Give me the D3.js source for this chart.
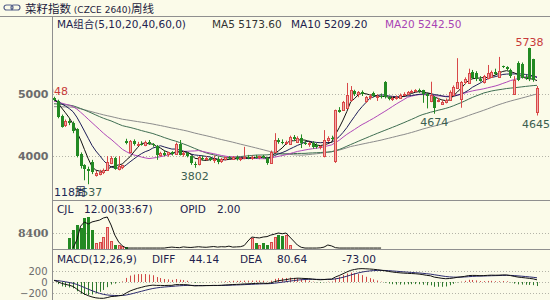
<!DOCTYPE html>
<html>
<head>
<meta charset="utf-8">
<script src="https://cdn.jsdelivr.net/npm/d3@7"></script>
<style>
  body { margin: 0; background: #fbfbe9; }
  svg { display: block; }
</style>
</head>
<body>
<svg id="chart" width="550" height="300"></svg>
<script>
// weekly candles
const opens = [
  4920, 4880, 4640, 4480, 4550, 4520, 4420, 4020, 3840, 3790,
  3900, 3690, 3700, 3720, 3770, 3880, 3960, 3780, 3810, 4240,
  4060, 4230, 4180, 4190, 4170, 4220, 4180, 4150, 4000, 4040,
  4010, 4050, 4030, 4190, 4020, 4040, 3990, 3870, 3860, 3960,
  3940, 3960, 3930, 3950, 3900, 3940, 3970, 3950, 3980, 3940,
  3960, 3980, 3960, 3980, 3970, 3990, 3960, 3880, 4060, 4250,
  4220, 4200, 4180, 4300, 4230, 4280, 4200, 4180, 4200, 4170,
  4130, 3990, 4250, 4290, 3900, 4740, 4730, 4770, 4890, 5040,
  4980, 5020, 4870, 4940, 5010, 4940, 4960, 5180, 4940, 4910,
  4930, 4930, 4980, 5000, 5030, 5040, 5050, 5050, 4990, 4880,
  4950, 4880, 4840, 4870, 4900, 4980, 5100, 4900, 5190, 5170,
  5350, 5330, 5230, 5180, 5250, 5270, 5350, 5270, 5440, 5420,
  5380, 5000, 5500, 5480, 5260, 5730, 5550, 4700
];
const highs = [
  4948, 4900, 4660, 4580, 4590, 4550, 4440, 4050, 3860, 3820,
  3930, 3750, 3770, 3790, 3990, 3990, 3980, 3990, 3850, 4270,
  4250, 4260, 4220, 4230, 4240, 4250, 4200, 4170, 4060, 4080,
  4060, 4070, 4210, 4250, 4070, 4060, 4000, 3900, 3990, 4000,
  3990, 3980, 4000, 3980, 3960, 3980, 3990, 3990, 4000, 3970,
  4140, 4010, 4000, 4010, 4000, 4010, 3980, 4080, 4360, 4280,
  4260, 4240, 4320, 4330, 4310, 4340, 4240, 4220, 4230, 4200,
  4160, 4410, 4310, 4320, 4740, 4780, 4880, 5170, 5120, 5060,
  5040, 5050, 4960, 4990, 5030, 4990, 5000, 5200, 4960, 4950,
  4970, 5000, 5020, 5040, 5060, 5070, 5080, 5060, 5010, 5190,
  4960, 4930, 4890, 4920, 5050, 5130, 5570, 5200, 5260, 5400,
  5380, 5360, 5280, 5300, 5460, 5370, 5400, 5590, 5450, 5440,
  5400, 5280, 5520, 5500, 5300, 5738, 5560, 5120
];
const lows = [
  4880, 4600, 4450, 4460, 4490, 4360, 3970, 3790, 3600, 3537,
  3700, 3660, 3680, 3700, 3750, 3860, 3770, 3760, 3780, 4180,
  4040, 4160, 4150, 4160, 4150, 4170, 4140, 3930, 3980, 3990,
  3980, 4000, 4020, 4000, 3980, 3970, 3850, 3802, 3840, 3920,
  3920, 3910, 3880, 3860, 3880, 3920, 3930, 3930, 3920, 3910,
  3940, 3940, 3930, 3950, 3940, 3950, 3850, 3870, 4040, 4190,
  4180, 4170, 4170, 4230, 4210, 4120, 4170, 4140, 4110, 4110,
  4100, 3970, 4220, 4250, 3880, 4690, 4720, 4760, 4870, 4960,
  4940, 4960, 4850, 4900, 4940, 4880, 4920, 4920, 4890, 4880,
  4900, 4920, 4960, 4980, 5010, 5020, 5010, 4850, 4760, 4860,
  4674, 4860, 4820, 4840, 4880, 4970, 5090, 4770, 5150, 5160,
  5230, 5200, 5190, 5160, 5230, 5250, 5300, 5250, 5410, 5370,
  5250, 4980, 5200, 5240, 5220, 5200, 5190, 4645
];
const closes = [
  4890, 4620, 4470, 4550, 4510, 4390, 3990, 3820, 3780, 3760,
  3740, 3720, 3740, 3760, 3900, 3960, 3790, 3830, 3840, 4210,
  4230, 4180, 4190, 4170, 4220, 4180, 4160, 4000, 4040, 4010,
  4050, 4020, 4190, 4020, 4040, 3990, 3870, 3860, 3970, 3940,
  3960, 3930, 3950, 3900, 3940, 3970, 3950, 3980, 3940, 3960,
  3980, 3960, 3980, 3970, 3990, 3960, 3880, 4060, 4250, 4220,
  4200, 4210, 4300, 4260, 4290, 4200, 4190, 4200, 4130, 4130,
  4150, 4250, 4290, 4270, 4730, 4710, 4860, 4975, 5050, 4990,
  5020, 4980, 4940, 4960, 4960, 4960, 4940, 4940, 4910, 4930,
  4950, 4980, 5000, 5030, 5040, 5050, 5030, 4990, 4950, 4980,
  4780, 4900, 4870, 4900, 5030, 5110, 5190, 5180, 5240, 5330,
  5250, 5230, 5200, 5280, 5330, 5350, 5320, 5360, 5420, 5390,
  5280, 5220, 5220, 5260, 5250, 5230, 5210, 5090
];
// closes of the weeks before the window, only used to start the averages
const earlierCloses = [
  4620, 4650, 4600, 4580, 4640, 4700, 4680, 4660, 4720, 4750,
  4710, 4690, 4730, 4760, 4740, 4700, 4680, 4720, 4760, 4800,
  4780, 4750, 4730, 4770, 4810, 4790, 4760, 4740, 4780, 4820,
  4850, 4810, 4790, 4770, 4800, 4840, 4870, 4830, 4800, 4780,
  4820, 4860, 4890, 4850, 4820, 4800, 4840, 4880, 4910, 4870,
  4840, 4860, 4900, 4930, 4890, 4870, 4910, 4940, 4920
];
// CJL bars (0 = no bar drawn)
const volume = [
  0, 0, 0, 0, 5800, 10000, 12600, 11000, 16300, 16800,
  10000, 3200, 3700, 6300, 11500, 4000, 2100, 2100, 1500, 800,
  0, 0, 0, 0, 0, 0, 0, 0, 0, 0,
  0, 0, 0, 0, 0, 0, 0, 0, 0, 0,
  0, 0, 0, 0, 0, 0, 0, 0, 0, 0,
  0, 0, 5800, 3200, 2100, 3200, 2100, 3700, 6300, 7300,
  6800, 7300, 2100, 0, 0, 0, 0, 0, 0, 0,
  0, 0, 0, 0, 0, 0, 0, 0, 0, 0,
  0, 0, 0, 0, 0, 0, 0, 0, 0, 0,
  0, 0, 0, 0, 0, 0, 0, 0, 0, 0,
  0, 0, 0, 0, 0, 0, 0, 0, 0, 0,
  0, 0, 0, 0, 0, 0, 0, 0, 0, 0,
  0, 0, 0, 0, 0, 0, 0, 0
];
// OPID line, only present for weeks 5..86
const opidStart = 5;
const opid = [
  500, 4700, 12000, 14200, 13100, 14200, 14700, 15200, 16300, 16800,
  12600, 7300, 3700, 1600, 500, 500, 500, 500, 500, 500,
  500, 500, 500, 500, 500, 800, 1000, 800, 700, 1100,
  900, 800, 1000, 1200, 1000, 900, 1100, 1300, 1000, 1200,
  1100, 1500, 1000, 1100, 1200, 1800, 4200, 6300, 6000, 5800,
  6300, 6500, 7300, 7800, 8400, 8000, 8400, 6300, 4200, 2100,
  900, 500, 500, 500, 500, 600, 1000, 2100, 1600, 700,
  500, 500, 500, 500, 500, 500, 500, 500, 500, 500,
  500, 500
];

const priceTicks = [4000, 5000];
const volTicks = [8400];
const macdTicks = [-200, 0, 200];
const maPeriods = [5, 10, 20, 40, 60];
const maColors = ["#111111", "#1e1e58", "#b048b8", "#3f6e52", "#8c8c8c"];

const titleMain = "菜籽指数";
const titleCode = " (CZCE 2640)";
const titleEnd = "周线";
const maHeader = [
  { text: "MA组合(5,10,20,40,60,0)", x: 57, color: "#22224e" },
  { text: "MA5 5173.60", x: 212, color: "#333333" },
  { text: "MA10 5209.20", x: 291, color: "#22224e" },
  { text: "MA20 5242.50", x: 385, color: "#a844b4" }
];
const volHeader = [
  { text: "CJL", x: 57 }, { text: "12.00(33:67)", x: 84 },
  { text: "OPID", x: 180 }, { text: "2.00", x: 217 }
];
const macdHeader = [
  { text: "MACD(12,26,9)", x: 57 }, { text: "DIFF", x: 152 }, { text: "44.14", x: 189 },
  { text: "DEA", x: 240 }, { text: "80.64", x: 277 }, { text: "-73.00", x: 342 }
];
const periodLabel = "118周";

const svg = d3.select("#chart");
const N = closes.length;
const font = "Tahoma, 'DejaVu Sans', 'Noto Sans CJK SC', sans-serif";
const red = "#d84848", pink = "#f2aaaa", green = "#238a23";
const axisLeftX = 52.5;

svg.append("rect").attr("width", 550).attr("height", 300).attr("fill", "#fbfbe9");

// scales
const x = d3.scalePoint().domain(d3.range(N)).range([54, 537]);
const yPrice = d3.scaleLinear().domain([4000, 5000]).range([155.5, 93.5]);
const yVol = d3.scaleLinear().domain([0, 8400]).range([249, 233]);
const yMacd = d3.scaleLinear().domain([-200, 200]).range([293, 271]);
const px = i => Math.round(x(i));

// clip areas
const defs = svg.append("defs");
defs.append("clipPath").attr("id", "clipMain")
  .append("rect").attr("x", 53).attr("y", 17).attr("width", 497).attr("height", 183);
defs.append("clipPath").attr("id", "clipVol")
  .append("rect").attr("x", 53).attr("y", 201).attr("width", 497).attr("height", 48);
defs.append("clipPath").attr("id", "clipMacd")
  .append("rect").attr("x", 53).attr("y", 251).attr("width", 497).attr("height", 49);

// frame lines
const frame = svg.append("g").attr("stroke", "#8f8f8f").attr("shape-rendering", "crispEdges");
frame.append("line").attr("x1", 0).attr("x2", 550).attr("y1", 16.5).attr("y2", 16.5);
frame.append("line").attr("x1", axisLeftX).attr("x2", axisLeftX).attr("y1", 16.5).attr("y2", 300);
frame.append("line").attr("x1", axisLeftX).attr("x2", 550).attr("y1", 200.5).attr("y2", 200.5);
frame.append("line").attr("x1", axisLeftX).attr("x2", 550).attr("y1", 249.5).attr("y2", 249.5);

// dotted grids
function grid(ticks, scale) {
  svg.append("g").selectAll("line").data(ticks).join("line")
    .attr("x1", 53).attr("x2", 550)
    .attr("y1", d => Math.round(scale(d)) + 0.5).attr("y2", d => Math.round(scale(d)) + 0.5)
    .attr("stroke", "#b4b4a8").attr("stroke-dasharray", "1,2");
}
grid(priceTicks, yPrice);
grid(volTicks, yVol);
grid(macdTicks, yMacd);

// left axes
function leftAxis(scale, ticks, family, weight, size, pad) {
  const a = svg.append("g").attr("transform", `translate(${axisLeftX},0)`)
    .call(d3.axisLeft(scale).tickValues(ticks).tickSize(0).tickPadding(pad).tickFormat(d3.format("d")));
  a.select(".domain").remove();
  a.selectAll("text").attr("fill", "#6c6c6c").attr("font-family", family)
    .attr("font-weight", weight).attr("font-size", size);
}
leftAxis(yPrice, priceTicks, "'DejaVu Sans', sans-serif", "bold", 11, 4);
leftAxis(yVol, volTicks, "'DejaVu Serif', serif", "bold", 11, 4);
leftAxis(yMacd, macdTicks, "'DejaVu Sans', sans-serif", "normal", 10, 5);

// moving averages from the closes
const all = earlierCloses.concat(closes);
const P = earlierCloses.length;
const maLine = d3.line().x((d, i) => x(i)).y(d => yPrice(d));
const main = svg.append("g").attr("clip-path", "url(#clipMain)");
maPeriods.slice().reverse().forEach((n, k) => {
  const ci = maPeriods.length - 1 - k;
  const vals = closes.map((c, i) => d3.mean(all.slice(i + P - n + 1, i + P + 1)));
  main.append("path").datum(vals).attr("d", maLine)
    .attr("fill", "none").attr("stroke", maColors[ci]).attr("stroke-width", 1);
});

// candles
const idx = d3.range(N);
main.append("g").selectAll("line").data(idx).join("line")
  .attr("x1", i => px(i) + 0.5).attr("x2", i => px(i) + 0.5)
  .attr("y1", i => yPrice(highs[i])).attr("y2", i => yPrice(lows[i]))
  .attr("stroke", i => closes[i] >= opens[i] ? red : green);
main.append("g").selectAll("rect").data(idx).join("rect")
  .attr("shape-rendering", "crispEdges")
  .attr("x", i => closes[i] >= opens[i] ? px(i) - 0.5 : px(i) - 1)
  .attr("width", i => closes[i] >= opens[i] ? 2 : 3)
  .attr("y", i => Math.round(yPrice(Math.max(opens[i], closes[i]))))
  .attr("height", i => Math.max(1, Math.round(Math.abs(yPrice(opens[i]) - yPrice(closes[i])))))
  .attr("fill", i => closes[i] >= opens[i] ? pink : green)
  .attr("stroke", i => closes[i] >= opens[i] ? red : "none");

// high / low labels
const hiIdx = [0, d3.maxIndex(highs)];
const loIdx = [9, 37, 100, N - 1];
const lab = svg.append("g").attr("clip-path", "url(#clipMain)")
  .attr("font-family", font).attr("font-size", 11).attr("text-anchor", "middle");
lab.selectAll("text.hi").data(hiIdx).join("text").attr("class", "hi")
  .attr("x", i => x(i)).attr("y", i => yPrice(highs[i]) - 2)
  .attr("fill", "#c83a3a").text(i => highs[i]);
lab.selectAll("text.lo").data(loIdx).join("text").attr("class", "lo")
  .attr("x", i => Math.min(x(i), 536)).attr("y", i => yPrice(lows[i]) + 12)
  .attr("fill", "#3c5e50").text(i => lows[i]);
svg.append("text").attr("x", 54).attr("y", 196).attr("font-family", font).attr("font-size", 11)
  .attr("fill", "#1e2a58").text(periodLabel);

// volume panel
const vol = svg.append("g").attr("clip-path", "url(#clipVol)");
const volIdx = idx.filter(i => volume[i] > 0);
vol.selectAll("rect").data(volIdx).join("rect")
  .attr("shape-rendering", "crispEdges")
  .attr("x", i => closes[i] >= opens[i] ? px(i) - 0.5 : px(i) - 1)
  .attr("width", i => closes[i] >= opens[i] ? 2 : 3)
  .attr("y", i => Math.round(yVol(volume[i])))
  .attr("height", i => 249 - Math.round(yVol(volume[i])))
  .attr("fill", i => closes[i] >= opens[i] ? pink : green)
  .attr("stroke", i => closes[i] >= opens[i] ? red : "none");
vol.append("path").datum(opid)
  .attr("d", d3.line().x((d, k) => x(k + opidStart)).y(d => yVol(d)))
  .attr("fill", "none").attr("stroke", "#111").attr("stroke-width", 1);

// MACD from the closes
let e12 = all[0], e26 = all[0], dea = 0;
const diffs = [], deas = [];
all.forEach(c => {
  e12 = e12 * 11 / 13 + c * 2 / 13;
  e26 = e26 * 25 / 27 + c * 2 / 27;
  const diff = e12 - e26;
  dea = dea * 8 / 10 + diff * 2 / 10;
  diffs.push(diff); deas.push(dea);
});
const diffV = diffs.slice(P), deaV = deas.slice(P);
const macdV = diffV.map((d, i) => 2 * (d - deaV[i]));
const mac = svg.append("g").attr("clip-path", "url(#clipMacd)");
mac.selectAll("line").data(idx).join("line")
  .attr("x1", i => px(i) + 0.5).attr("x2", i => px(i) + 0.5)
  .attr("y1", yMacd(0)).attr("y2", i => yMacd(macdV[i]))
  .attr("stroke", i => macdV[i] >= 0 ? "#d04848" : "#2f7a2f");
const mLine = d3.line().x((d, i) => x(i)).y(d => yMacd(d));
mac.append("path").datum(deaV).attr("d", mLine).attr("fill", "none").attr("stroke", "#2b2b6e");
mac.append("path").datum(diffV).attr("d", mLine).attr("fill", "none").attr("stroke", "#111");

// headers
const icon = svg.append("g").attr("fill", "none").attr("stroke", "#55608a").attr("stroke-width", 1.2);
icon.append("rect").attr("x", 4).attr("y", 5).attr("width", 9).attr("height", 5).attr("rx", 2.5);
icon.append("rect").attr("x", 11).attr("y", 5).attr("width", 9).attr("height", 5).attr("rx", 2.5);
const t = svg.append("text").attr("x", 25).attr("y", 12.5).attr("fill", "#1c1c3c")
  .attr("font-family", "'Noto Sans CJK SC', sans-serif").attr("font-size", 11.5);
t.append("tspan").text(titleMain);
t.append("tspan").attr("font-family", "'DejaVu Sans', sans-serif").attr("font-size", 9).text(titleCode);
t.append("tspan").text(titleEnd);

svg.append("g").selectAll("text").data(maHeader).join("text")
  .attr("x", d => d.x).attr("y", 28).attr("fill", d => d.color)
  .attr("font-family", font).attr("font-size", 10.5).text(d => d.text);
svg.append("g").selectAll("text").data(volHeader).join("text")
  .attr("x", d => d.x).attr("y", 213).attr("fill", "#22224e")
  .attr("font-family", font).attr("font-size", 10.5).text(d => d.text);
svg.append("g").selectAll("text").data(macdHeader).join("text")
  .attr("x", d => d.x).attr("y", 263).attr("fill", "#22224e")
  .attr("font-family", font).attr("font-size", 10.5).text(d => d.text);
</script>
</body>
</html>
